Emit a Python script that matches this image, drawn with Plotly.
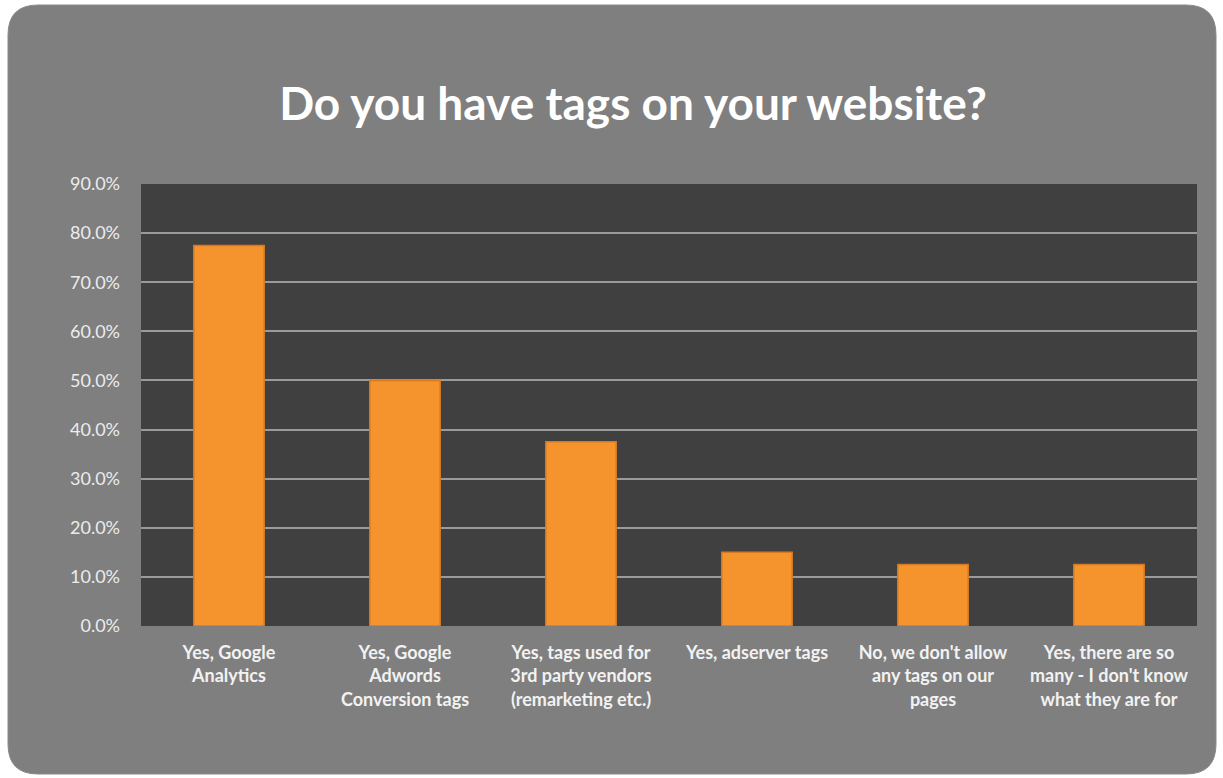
import plotly.graph_objects as go

categories = [
    "Yes, Google<br>Analytics",
    "Yes, Google<br>Adwords<br>Conversion tags",
    "Yes, tags used for<br>3rd party vendors<br>(remarketing etc.)",
    "Yes, adserver tags",
    "No, we don't allow<br>any tags on our<br>pages",
    "Yes, there are so<br>many - I don't know<br>what they are for",
]
values = [0.775, 0.50, 0.375, 0.15, 0.125, 0.125]
y_ticks = [0.0, 0.1, 0.2, 0.3, 0.4, 0.5, 0.6, 0.7, 0.8, 0.9]

W, H = 1223, 778
ML, MR, MT, MB = 141, 26, 184, 152
PW, PH = W - ML - MR, H - MT - MB


def px(x):
    return (x - ML) / PW


def py(y):
    return (H - MB - y) / PH


def rounded_rect(x0, y0, x1, y1, r):
    return (
        f"M {px(x0 + r)} {py(y0)} L {px(x1 - r)} {py(y0)} "
        f"Q {px(x1)} {py(y0)} {px(x1)} {py(y0 + r)} "
        f"L {px(x1)} {py(y1 - r)} Q {px(x1)} {py(y1)} {px(x1 - r)} {py(y1)} "
        f"L {px(x0 + r)} {py(y1)} Q {px(x0)} {py(y1)} {px(x0)} {py(y1 - r)} "
        f"L {px(x0)} {py(y0 + r)} Q {px(x0)} {py(y0)} {px(x0 + r)} {py(y0)} Z"
    )


fig = go.Figure()
fig.add_trace(
    go.Bar(
        x=categories,
        y=values,
        marker=dict(color="#f5932c", line=dict(color="#d67a22", width=1.5)),
        hoverinfo="skip",
    )
)

fig.update_layout(
    width=W,
    height=H,
    margin=dict(l=ML, r=MR, t=MT, b=MB),
    paper_bgcolor="#ffffff",
    plot_bgcolor="#404040",
    bargap=0.6,
    showlegend=False,
    font=dict(family="Lato", color="#eeeeee"),
    title=dict(
        text="Do you have tags on your website?",
        x=633 / W,
        xanchor="center",
        yref="container",
        y=1 - 104 / H,
        yanchor="middle",
        font=dict(family="Lato", size=46, color="#ffffff", weight="bold"),
    ),
    shapes=[
        dict(
            type="path",
            xref="paper",
            yref="paper",
            path=rounded_rect(8, 5, 1216, 774, 30),
            fillcolor="#7f7f7f",
            line=dict(color="#8a8a8a", width=1),
            layer="below",
        ),
        dict(
            type="rect",
            xref="paper",
            yref="paper",
            x0=0, x1=1, y0=0, y1=1,
            fillcolor="#404040",
            line=dict(width=0),
            layer="below",
        ),
    ],
)

fig.update_yaxes(
    range=[0, 0.9],
    tickvals=y_ticks,
    tickformat=".1%",
    showgrid=True,
    gridcolor="#9a9a9a",
    gridwidth=1.5,
    zeroline=False,
    showline=False,
    ticklabelstandoff=20,
    tickfont=dict(family="Lato", size=18, color="#ececec"),
)
fig.update_xaxes(
    showgrid=False,
    showline=False,
    tickangle=0,
    ticklabelstandoff=14,
    tickfont=dict(family="Lato", size=18, color="#f2f2f2", weight="bold"),
)

fig.write_html(
    "out.html",
    config={"displayModeBar": False},
    post_script="document.body.style.margin='0';",
)
